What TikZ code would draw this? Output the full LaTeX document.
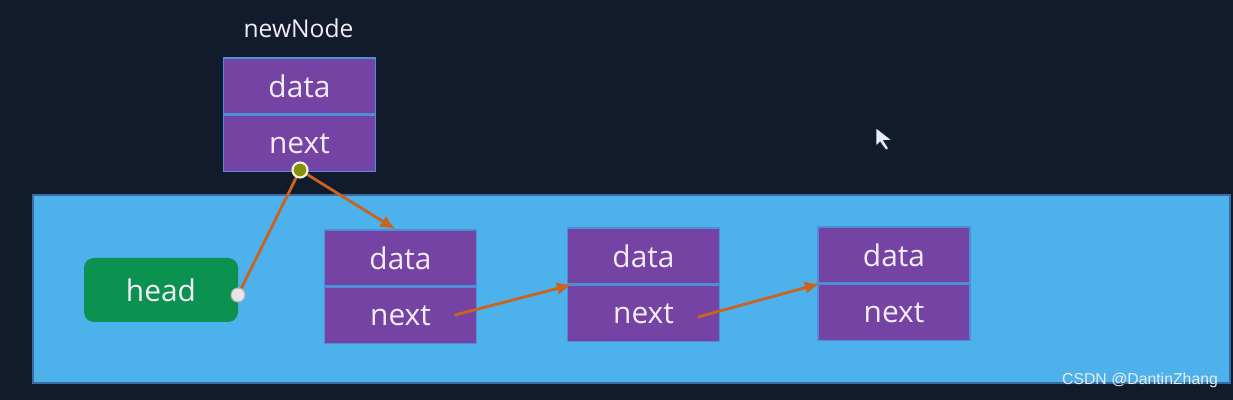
\documentclass[tikz,border=0pt]{standalone}
\usepackage{fontspec}
\setmainfont{Open Sans}
\newfontfamily\markfont{Liberation Sans}
\usetikzlibrary{arrows.meta, positioning}

\definecolor{navy}{HTML}{111B2B}
\definecolor{panel}{HTML}{4DB1EB}
\definecolor{cellfill}{HTML}{7443A3}
\definecolor{cellline}{HTML}{4C8FD9}
\definecolor{headfill}{HTML}{0B9150}
\definecolor{linkcol}{HTML}{C8641E}
\definecolor{txt}{HTML}{F2ECF6}

\tikzset{
  cell/.style={draw=cellline, line width=0.8pt, fill=cellfill, minimum width=3.04cm,
    minimum height=1.12cm, inner sep=0pt, text=txt, font=\fontsize{17}{19}\selectfont},
  headbox/.style={fill=headfill, rounded corners=0.2cm, minimum width=3.08cm,
    minimum height=1.28cm, inner sep=0pt, text=txt, font=\fontsize{17}{19}\selectfont},
  link/.style={draw=linkcol, line width=1.6pt},
  linkarrow/.style={link, -{Latex[length=3mm,width=2.6mm]}},
}

\begin{document}
\begin{tikzpicture}
% Background
\fill [navy] (0,0) rectangle (24.66,8);
\useasboundingbox (0,0) rectangle (24.66,8);
% List panel
\draw [fill=panel, draw=cellline!70!navy, line width=0.8pt] (0.66,0.34) rectangle (24.6,4.1);
% New node
\node (newlabel) at (5.97,7.44) [text=txt, font=\fontsize{14}{16}\selectfont] {newNode};
\node [cell] (nwdata) at (5.99,6.28) {data};
\node [cell, below=0pt of nwdata] (nwnext) {next};
% Head
\node [headbox] (head) at (3.22,2.2) {head};
% List nodes
\node [cell] (adata) at (8.01,2.84) {data};
\node [cell, below=0pt of adata] (anext) {next};
\node [cell] (bdata) at (12.87,2.88) {data};
\node [cell, below=0pt of bdata] (bnext) {next};
\node [cell] (cdata) at (17.88,2.9) {data};
\node [cell, below=0pt of cdata] (cnext) {next};
% Pointer dots
\coordinate (headdot) at (4.76,2.1);
\coordinate (nwdot) at (6.0,4.6);
\coordinate (aptr) at (9.1,1.7);
\coordinate (bptr) at (13.96,1.66);
% Links
\draw [link] (headdot) -- (nwdot);
\draw [linkarrow] (nwdot) -- ([xshift=-1mm]adata.north);
\draw [linkarrow] (aptr) -- ([xshift=1mm]bdata.south west);
\draw [linkarrow] (bptr) -- ([xshift=0.5mm]cdata.south west);
\fill [gray!20, draw=gray!60, line width=0.6pt] (headdot) circle (0.14);
\fill [olive!80!green, draw=white!90!olive, line width=1.2pt] (nwdot) circle (0.15);
% Cursor
\draw [fill=white!92!blue, draw=navy, line width=0.3pt, line join=round]
  (17.52,5.44) -- ++(0,-0.36) -- ++(0.08,0.08) -- ++(0.12,-0.16) -- ++(0.05,0.03)
  -- ++(-0.1,0.16) -- ++(0.17,0) -- cycle;
% Watermark
\node (mark) at (22.8,0.4) [text=gray!15, font=\markfont\fontsize{9}{11}\selectfont] {CSDN @DantinZhang};
\end{tikzpicture}
\end{document}
